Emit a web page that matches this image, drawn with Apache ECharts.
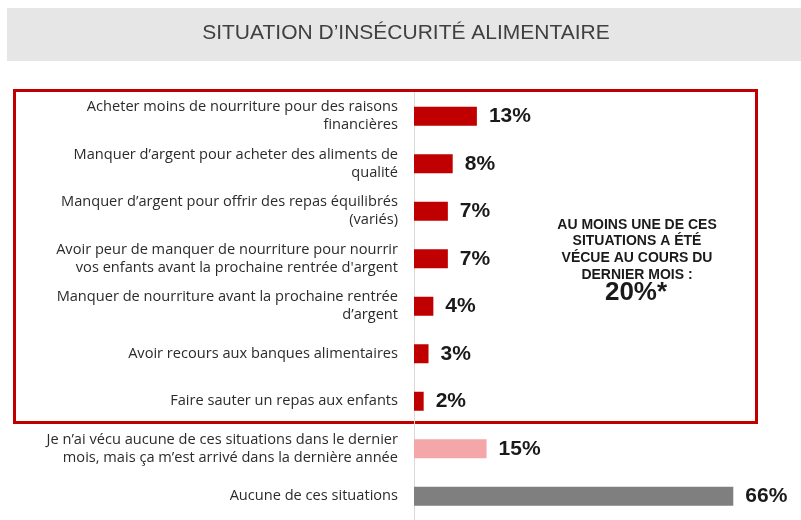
<!DOCTYPE html>
<html><head><meta charset="utf-8">
<script src="https://cdn.jsdelivr.net/npm/echarts@6/dist/echarts.min.js"></script>
<style>html,body{margin:0;padding:0;background:#fff;}#c{width:801px;height:520px;}</style>
</head><body><div id="c"></div>
<script>
const titleText = "SITUATION D\u2019INSÉCURITÉ ALIMENTAIRE";
const categories = [
  "Acheter moins de nourriture pour des raisons\nfinancières",
  "Manquer d\u2019argent pour acheter des aliments de\nqualité",
  "Manquer d\u2019argent pour offrir des repas équilibrés\n(variés)",
  "Avoir peur de manquer de nourriture pour nourrir\nvos enfants avant la prochaine rentrée d'argent",
  "Manquer de nourriture avant la prochaine rentrée\nd\u2019argent",
  "Avoir recours aux banques alimentaires",
  "Faire sauter un repas aux enfants",
  "Je n\u2019ai vécu aucune de ces situations dans le dernier\nmois, mais ça m\u2019est arrivé dans la dernière année",
  "Aucune de ces situations"
];
const values = [13, 8, 7, 7, 4, 3, 2, 15, 66];
const groups = ["month", "month", "month", "month", "month", "month", "month", "year", "none"];
const groupColors = { month: "#c00000", year: "#f4a6a8", none: "#7f7f7f" };
const noteLines = ["AU MOINS UNE DE CES", "SITUATIONS A ÉTÉ", "VÉCUE AU COURS DU", "DERNIER MOIS :"];
const noteValue = "20%*";

const chart = echarts.init(document.getElementById('c'), null, {renderer: 'canvas'});
const font = "'Liberation Sans', Arial, sans-serif";
const labelFont = "'Open Sans', 'Liberation Sans', sans-serif";
chart.setOption({
  animation: false,
  backgroundColor: '#fff',
  textStyle: { fontFamily: font },
  grid: { left: 414, top: 92.5, width: 394, height: 430, containLabel: false },
  xAxis: { type: 'value', min: 0, max: 80, show: false },
  yAxis: {
    type: 'category', data: categories, inverse: true,
    axisLine: { show: true, lineStyle: { color: '#d9d9d9', width: 1 } },
    axisTick: { show: false },
    axisLabel: { margin: 16, color: '#2b2b2b', fontSize: 14.6, lineHeight: 18, align: 'right', fontFamily: labelFont }
  },
  series: [{
    type: 'bar', barWidth: 19,
    data: values.map((v, i) => ({ value: v, itemStyle: { color: groupColors[groups[i]] } })),
    label: { show: true, position: 'right', distance: 12, formatter: '{c}%', color: '#1a1a1a',
             fontSize: 21, fontWeight: 'bold', fontFamily: font }
  }],
  graphic: [
    { type: 'rect', z: -1, shape: { x: 7, y: 8, width: 800, height: 53 }, style: { fill: '#e6e6e6' } },
    { type: 'text', x: 406, y: 23, style: { text: titleText, fill: '#404040', font: "21px " + font, align: 'center' } },
    { type: 'rect', shape: { x: 14.5, y: 90.5, width: 742, height: 332 }, style: { fill: 'none', stroke: '#c00000', lineWidth: 3 } },
    { type: 'text', x: 637, y: 216.5, style: { text: noteLines.join('\n'), fill: '#1a1a1a', font: "bold 14px " + font, align: 'center', lineHeight: 16.7 } },
    { type: 'text', x: 636, y: 280, style: { text: noteValue, fill: '#1a1a1a', font: "bold 26px " + font, align: 'center' } }
  ]
});
</script></body></html>
